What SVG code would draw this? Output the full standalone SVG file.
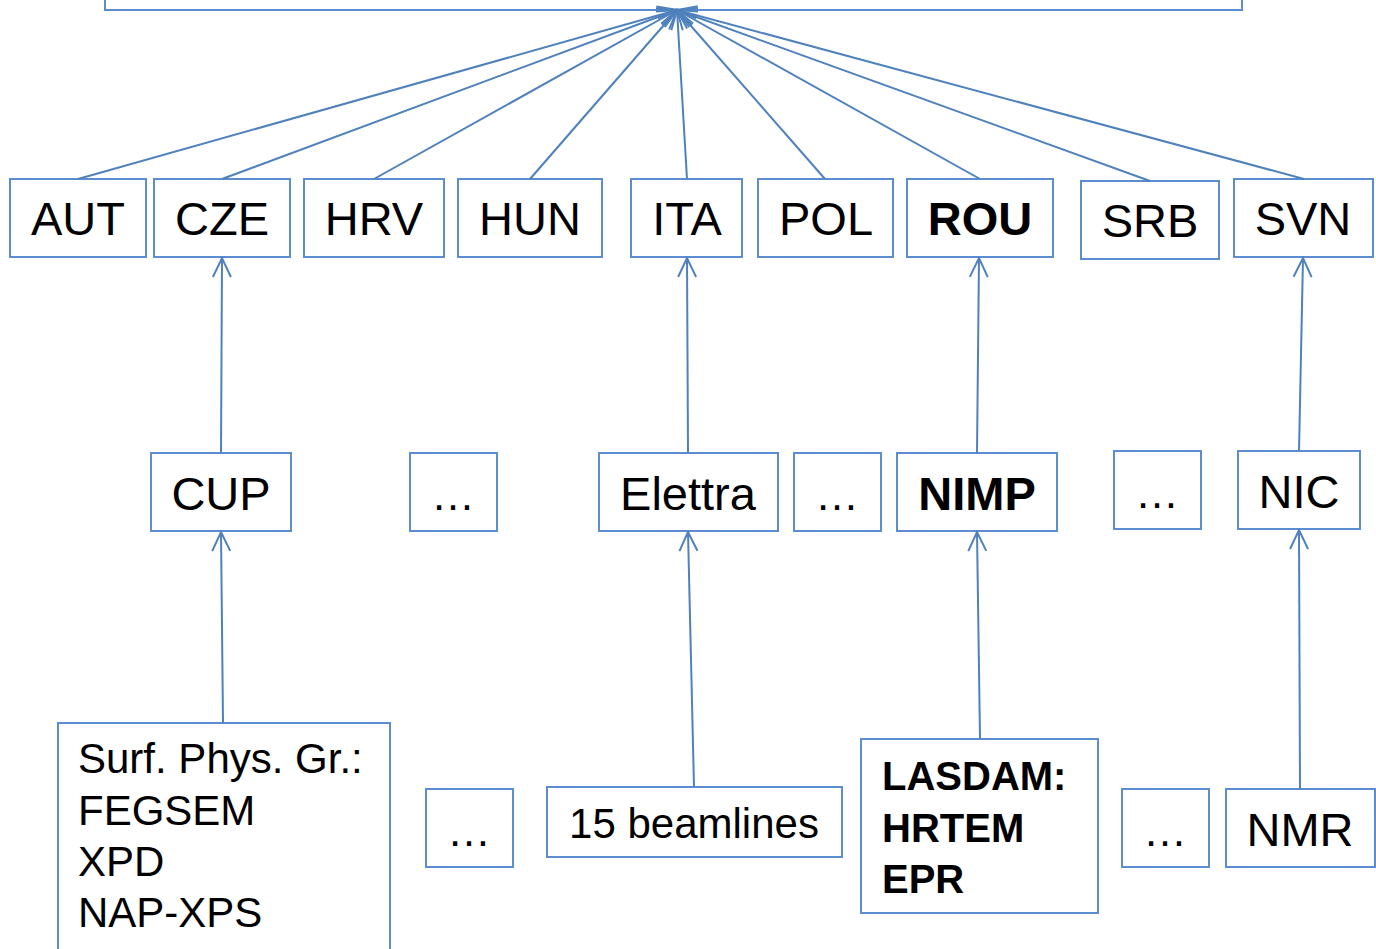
<svg xmlns="http://www.w3.org/2000/svg" width="1376" height="949" viewBox="0 0 1376 949">
<defs>
<marker id="arr" markerUnits="userSpaceOnUse" markerWidth="26" markerHeight="26" viewBox="-22 -13 26 26" refX="0" refY="0" orient="auto">
<path d="M-19,-9 L0,0 L-19,9" fill="none" stroke="#4f81bd" stroke-width="2"/>
</marker>
</defs>
<style>
.box{fill:#fff;stroke:#5b8dd0;stroke-width:2}
.t{font-family:"Liberation Sans",Arial,sans-serif;fill:#000}
.c{text-anchor:middle}
.b{font-weight:bold}
.con line{stroke:#4f81bd;stroke-width:2;marker-end:url(#arr)}
</style>
<rect width="1376" height="949" fill="#fff"/>
<g id="top"><rect class="box" x="105" y="-20" width="1137" height="30"/></g>

<g id="AUT"><rect class="box" x="10" y="179" width="136" height="78"/><text class="t c" x="78" y="235" font-size="47">AUT</text></g>
<g id="CZE"><rect class="box" x="154" y="179" width="136" height="78"/><text class="t c" x="222" y="235" font-size="47">CZE</text></g>
<g id="HRV"><rect class="box" x="304" y="179" width="140" height="78"/><text class="t c" x="374" y="235" font-size="47">HRV</text></g>
<g id="HUN"><rect class="box" x="458" y="179" width="144" height="78"/><text class="t c" x="530" y="235" font-size="47">HUN</text></g>
<g id="ITA"><rect class="box" x="631" y="179" width="111" height="78"/><text class="t c" x="687" y="235" font-size="47">ITA</text></g>
<g id="POL"><rect class="box" x="758" y="179" width="135" height="78"/><text class="t c" x="826" y="235" font-size="47">POL</text></g>
<g id="ROU"><rect class="box" x="907" y="179" width="146" height="78"/><text class="t c b" x="980" y="235" font-size="47">ROU</text></g>
<g id="SRB"><rect class="box" x="1081" y="181" width="138" height="78"/><text class="t c" x="1150" y="237" font-size="47">SRB</text></g>
<g id="SVN"><rect class="box" x="1234" y="179" width="139" height="78"/><text class="t c" x="1303" y="235" font-size="47">SVN</text></g>

<g id="CUP"><rect class="box" x="151" y="453" width="140" height="78"/><text class="t c" x="221" y="510" font-size="47">CUP</text></g>
<g id="dots1"><rect class="box" x="410" y="453" width="87" height="78"/><text class="t c" x="453" y="510" font-size="44">…</text></g>
<g id="Elettra"><rect class="box" x="599" y="453" width="179" height="78"/><text class="t c" x="688" y="510" font-size="47">Elettra</text></g>
<g id="dots2"><rect class="box" x="794" y="453" width="87" height="78"/><text class="t c" x="837" y="510" font-size="44">…</text></g>
<g id="NIMP"><rect class="box" x="897" y="453" width="160" height="78"/><text class="t c b" x="977" y="510" font-size="47">NIMP</text></g>
<g id="dots3"><rect class="box" x="1114" y="451" width="87" height="78"/><text class="t c" x="1157" y="508" font-size="44">…</text></g>
<g id="NIC"><rect class="box" x="1238" y="451" width="122" height="78"/><text class="t c" x="1299" y="508" font-size="47">NIC</text></g>

<g id="SurfPhys"><rect class="box" x="58" y="723" width="332" height="240"/>
<text class="t" x="78" y="773" font-size="42">Surf. Phys. Gr.:</text>
<text class="t" x="78" y="825" font-size="42">FEGSEM</text>
<text class="t" x="78" y="876" font-size="42">XPD</text>
<text class="t" x="78" y="927" font-size="42">NAP-XPS</text></g>
<g id="dots4"><rect class="box" x="426" y="789" width="87" height="78"/><text class="t c" x="469" y="846" font-size="44">…</text></g>
<g id="beamlines"><rect class="box" x="547" y="787" width="295" height="70"/><text class="t c" x="694" y="838" font-size="42">15 beamlines</text></g>
<g id="LASDAM"><rect class="box" x="861" y="739" width="237" height="174"/>
<text class="t b" x="882" y="790" font-size="40">LASDAM:</text>
<text class="t b" x="882" y="842" font-size="40">HRTEM</text>
<text class="t b" x="882" y="893" font-size="40">EPR</text></g>
<g id="dots5"><rect class="box" x="1122" y="789" width="87" height="78"/><text class="t c" x="1165" y="846" font-size="44">…</text></g>
<g id="NMR"><rect class="box" x="1226" y="789" width="149" height="78"/><text class="t c" x="1300" y="846" font-size="47">NMR</text></g>

<g id="connectors" class="con">
<line x1="78" y1="179" x2="677" y2="10"/>
<line x1="222" y1="179" x2="677" y2="10"/>
<line x1="374" y1="179" x2="677" y2="10"/>
<line x1="530" y1="179" x2="677" y2="10"/>
<line x1="687" y1="179" x2="677" y2="10"/>
<line x1="825" y1="179" x2="677" y2="10"/>
<line x1="980" y1="179" x2="677" y2="10"/>
<line x1="1150" y1="181" x2="677" y2="10"/>
<line x1="1304" y1="179" x2="677" y2="10"/>
<line x1="221" y1="453" x2="222" y2="258"/>
<line x1="688" y1="453" x2="687" y2="258"/>
<line x1="977" y1="453" x2="979" y2="258"/>
<line x1="1299" y1="451" x2="1303" y2="258"/>
<line x1="223" y1="723" x2="221" y2="532"/>
<line x1="694" y1="787" x2="688" y2="532"/>
<line x1="980" y1="739" x2="977" y2="532"/>
<line x1="1300" y1="789" x2="1299" y2="530"/>
</g>
</svg>
